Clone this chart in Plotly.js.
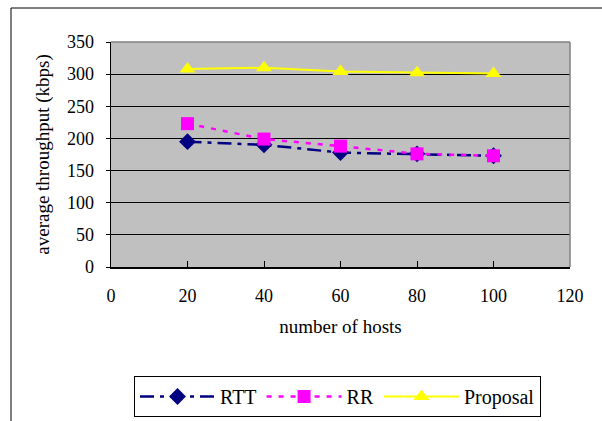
<!DOCTYPE html>
<html>
<head>
<meta charset="utf-8">
<script src="https://cdn.plot.ly/plotly-3.0.1.min.js"></script>
<style>html,body{margin:0;padding:0;background:#fff;}#chart{width:602px;height:421px;}</style>
</head>
<body>
<div id="chart"></div>
<script>
const hosts = [20, 40, 60, 80, 100];
const rtt = [195, 190, 178, 176, 173];
const rr = [223, 199, 188, 176, 173];
const proposal = [308, 310, 304, 302, 301];
const seriesNames = ["RTT", "RR", "Proposal"];
const xTitle = "number of hosts";
const yTitle = "average throughput (kbps)";

const W = 602, H = 421;
const M = {l: 111, r: 32, t: 42, b: 154, autoexpand: false};
const pw = W - M.l - M.r, ph = H - M.t - M.b;
const px = v => (v - M.l) / pw;
const py = v => (H - M.b - v) / ph;

const FAM = "Liberation Serif";
const font = {family: FAM, size: 18, color: "#000"};

const traces = [
  {x: hosts, y: rtt, name: seriesNames[0], type: "scatter", mode: "lines+markers",
   line: {color: "#000080", width: 2.5, dash: "14px,6px,4px,6px"},
   marker: {symbol: "diamond", size: 13, color: "#000080"}},
  {x: hosts, y: rr, name: seriesNames[1], type: "scatter", mode: "lines+markers",
   line: {color: "#FF00FF", width: 2.5, dash: "5px,7px"},
   marker: {symbol: "square", size: 13, color: "#FF00FF"}},
  {x: hosts, y: proposal, name: seriesNames[2], type: "scatter", mode: "lines+markers",
   line: {color: "#FFFF00", width: 2},
   marker: {symbol: "triangle-up", size: 14, color: "#FFFF00"}}
];

const layout = {
  width: W, height: H,
  margin: M,
  paper_bgcolor: "#fff",
  plot_bgcolor: "#C0C0C0",
  font: font,
  showlegend: true,
  legend: {
    orientation: "h", x: px(134), y: py(376), xanchor: "left", yanchor: "top",
    bordercolor: "#000", borderwidth: 1, bgcolor: "#fff",
    font: {family: FAM, size: 20, color: "#000"},
    itemwidth: 75
  },
  xaxis: {
    range: [0, 120], dtick: 20, tick0: 0,
    showgrid: false, zeroline: false,
    showline: true, linecolor: "#000", linewidth: 1.5,
    ticks: "inside", ticklen: 6, tickcolor: "#000",
    ticklabelstandoff: 12,
    tickfont: font,
    title: {text: xTitle, font: {family: FAM, size: 19, color: "#000"}, standoff: 14}
  },
  yaxis: {
    range: [0, 350], dtick: 50, tick0: 0,
    showgrid: true, gridcolor: "#000", gridwidth: 1,
    zeroline: false,
    showline: true, linecolor: "#000", linewidth: 1.5,
    ticks: "outside", ticklen: 4, tickcolor: "#000",
    ticklabelstandoff: 8,
    tickfont: font,
    title: {text: yTitle, font: {family: FAM, size: 19, color: "#000"}, standoff: 12}
  },
  shapes: [
    {type: "line", xref: "paper", yref: "paper", x0: 0, x1: 1, y0: 1, y1: 1, line: {color: "#808080", width: 1.5}},
    {type: "line", xref: "paper", yref: "paper", x0: 1, x1: 1, y0: 0, y1: 1, line: {color: "#808080", width: 1.5}},
    {type: "line", xref: "paper", yref: "paper", x0: px(11), x1: px(605), y0: py(8), y1: py(8), line: {color: "#000", width: 1}},
    {type: "line", xref: "paper", yref: "paper", x0: px(11), x1: px(11), y0: py(8), y1: py(425), line: {color: "#000", width: 1}}
  ]
};

Plotly.newPlot("chart", traces, layout, {displayModeBar: false, staticPlot: true});
</script>
</body>
</html>
